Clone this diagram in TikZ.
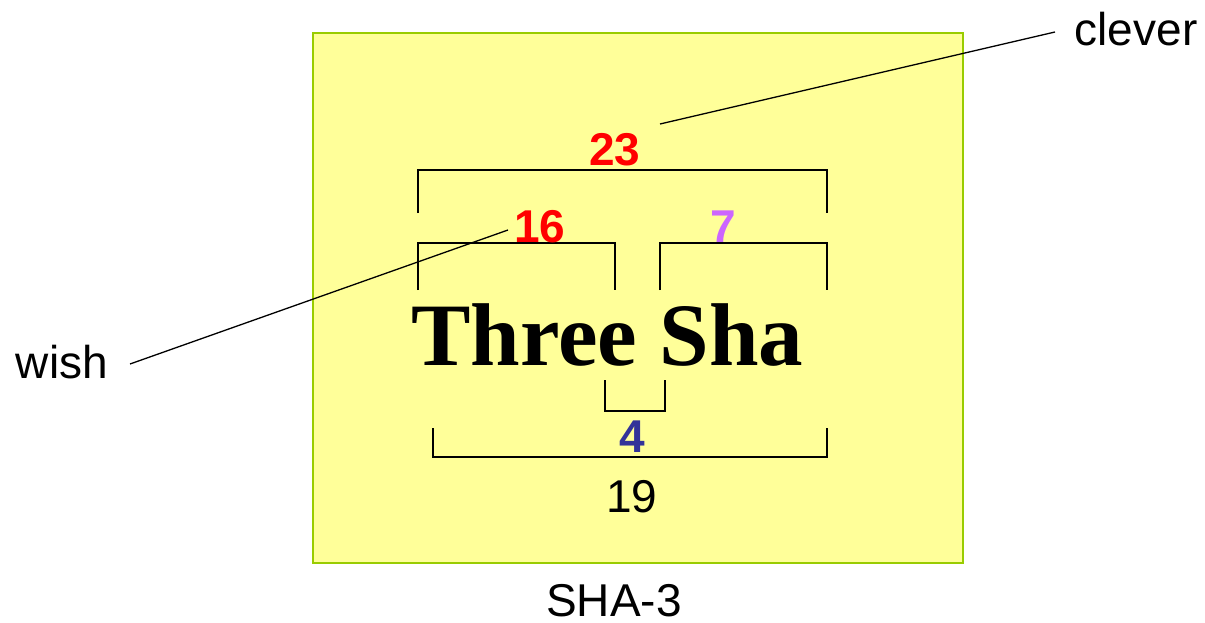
\documentclass[tikz,border=0pt]{standalone}
\usepackage{fontspec}
\setmainfont{Liberation Sans}
\newfontfamily\titleserif{Liberation Serif}
\definecolor{boxfill}{HTML}{FFFF99}
\definecolor{boxline}{HTML}{99CC00}
\definecolor{numred}{HTML}{FF0000}
\definecolor{numpurple}{HTML}{CC66FF}
\definecolor{numblue}{HTML}{333399}
\begin{document}
\begin{tikzpicture}[x=1pt,y=-1pt,
  bracket/.style={draw=black,line width=1.6pt},
  leader/.style={draw=black,line width=1.3pt},
  lbl/.style={inner sep=0pt,anchor=base,font=\fontsize{46}{50}\selectfont},
  num/.style={lbl,font=\fontsize{46}{50}\selectfont\bfseries}]
\useasboundingbox (0,0) rectangle (1205,623);
% panel
\draw[fill=boxfill,draw=boxline,line width=1.5pt] (313,33) rectangle (963,563);
% headline word
\node[inner sep=0pt,anchor=base west] (title) at (411,365)
  {\titleserif\bfseries\fontsize{90}{96}\selectfont\resizebox{392pt}{!}{Three Sha}};
% brackets
\draw[bracket] (418,213) -- (418,170) -- (827,170) -- (827,213);
\draw[bracket] (418,290) -- (418,243) -- (615,243) -- (615,290);
\draw[bracket] (660,290) -- (660,243) -- (827,243) -- (827,290);
\draw[bracket] (605,380) -- (605,411) -- (665,411) -- (665,380);
\draw[bracket] (433,428) -- (433,457) -- (827,457) -- (827,428);
% numbers
\node[num,text=numred] (n23) at (615,166) {23};
\node[num,text=numred] (n16) at (540,242) {16};
\node[num,text=numpurple] (n7) at (723,242) {7};
\node[num,text=numblue] (n4) at (632,452) {4};
\node[lbl] (n19) at (632,512) {19};
% captions
\node[lbl] (sha) at (614,616) {SHA-3};
\node[lbl] (clever) at (1136,46) {clever};
\node[lbl] (wish) at (62,378) {wish};
% leaders
\coordinate (cl0) at (660,124);
\coordinate (cl1) at (1055,32);
\coordinate (wi0) at (130,364);
\coordinate (wi1) at (508,230);
\draw[leader] (cl0) -- (cl1);
\draw[leader] (wi0) -- (wi1);
\end{tikzpicture}
\end{document}
